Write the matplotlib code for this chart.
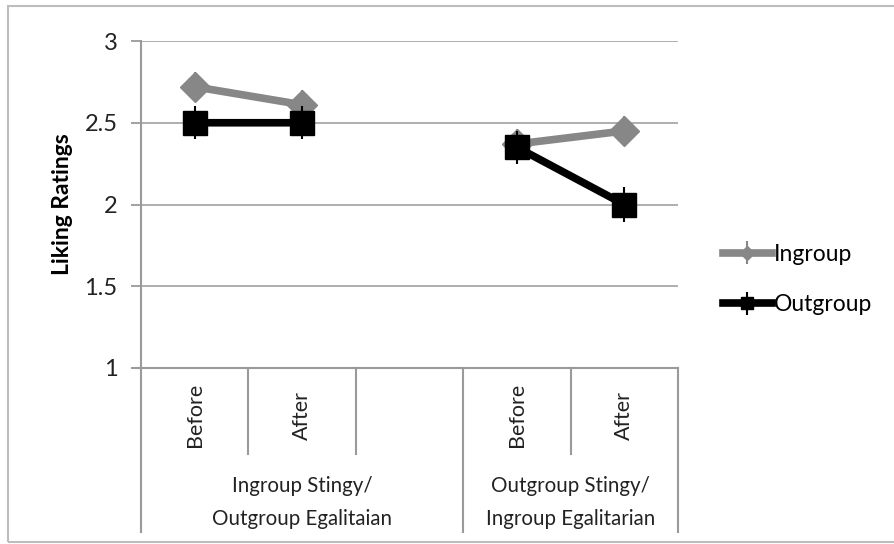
import numpy as np
import matplotlib
matplotlib.use('Agg')
import matplotlib.pyplot as plt
from matplotlib.patches import Rectangle

plt.rcParams['font.family'] = ['Lato', 'DejaVu Sans']

#=======================================================================================
# Data
#=======================================================================================

conditions = ['Before', 'After', '', 'Before', 'After']
groups = ['Ingroup Stingy/\nOutgroup Egalitaian', 'Outgroup Stingy/\nIngroup Egalitarian']
group_spans = [(0, 3), (3, 5)]

ingroup = [2.72, 2.61, np.nan, 2.37, 2.45]
ingroup_err = [0.09, 0.09, np.nan, 0.09, 0.09]
outgroup = [2.50, 2.50, np.nan, 2.35, 2.00]
outgroup_err = [0.10, 0.10, np.nan, 0.10, 0.11]

yticks = [1, 1.5, 2, 2.5, 3]

#=======================================================================================
# Figure
#=======================================================================================

W, H = 894, 544
fig = plt.figure(figsize=(W/100, H/100), dpi=100)
ax = fig.add_axes([141/W, 1-368/H, (678-141)/W, (368-41)/H])

fig.patches.append(Rectangle((8/W, 2/H), 1.2, 1-8/H, transform=fig.transFigure,
                             fill=False, edgecolor='#bdbdbd', linewidth=1.5))

x = np.arange(len(conditions))
gray = '#878787'
axc = '#9a9a9a'
txt = '#222222'
px = 1/163.5  # one pixel in data units on y

ax.errorbar(x, ingroup, yerr=ingroup_err, color=gray, lw=5.5, marker='D', ms=15,
            ecolor=gray, elinewidth=1.5, capsize=0, label='Ingroup', zorder=3)
ax.errorbar(x, outgroup, yerr=outgroup_err, color='black', lw=5.5, marker='s', ms=17,
            ecolor='black', elinewidth=1.5, capsize=0, label='Outgroup', zorder=4)

ax.set_xlim(-0.5, len(conditions)-0.5)
ax.set_ylim(1, 3)
ax.set_yticks(yticks)
ax.set_yticklabels(['1', '1.5', '2', '2.5', '3'], fontsize=17, color=txt)
ax.yaxis.grid(True, color='#a8a8a8', lw=1.3)
ax.set_axisbelow(True)
ax.tick_params(axis='y', length=7, width=1.3, color=axc, pad=10)
ax.set_xticks([])
for s in ['top', 'right', 'bottom']:
    ax.spines[s].set_visible(False)
ax.spines['left'].set_color(axc)
ax.spines['left'].set_linewidth(1.5)
ax.set_ylabel('Liking Ratings', fontsize=16.5, fontweight='bold', labelpad=8)

# two level category axis
n = len(conditions)
ax.plot([-0.5-0.07, n-0.5], [1, 1], color=axc, lw=1.5, clip_on=False)
ax.plot([-0.5, -0.5], [1, 1-164*px], color=axc, lw=1.5, clip_on=False)
for i in range(1, n):
    bottom = 1-164*px if any(i == s[0] for s in group_spans) else 1-86*px
    ax.plot([i-0.5, i-0.5], [1, bottom], color=axc, lw=1.5, clip_on=False)
ax.plot([n-0.5, n-0.5], [1, 1-164*px], color=axc, lw=1.5, clip_on=False)

for i, c in enumerate(conditions):
    ax.text(i, 1-47*px, c, rotation=90, ha='center', va='center', fontsize=15.5, color=txt)
for (a, b), g in zip(group_spans, groups):
    ax.text((a+b-1)/2, 1-108*px, g, ha='center', va='top', fontsize=14.8,
            color=txt, linespacing=1.8)

leg = fig.legend(loc='upper left', bbox_to_anchor=(702/W, 1-223/H), frameon=False,
                 fontsize=16.5, handlelength=2.17, handletextpad=0.05, labelspacing=1.3,
                 markerscale=0.5)

fig.savefig('out.png', dpi=100)
